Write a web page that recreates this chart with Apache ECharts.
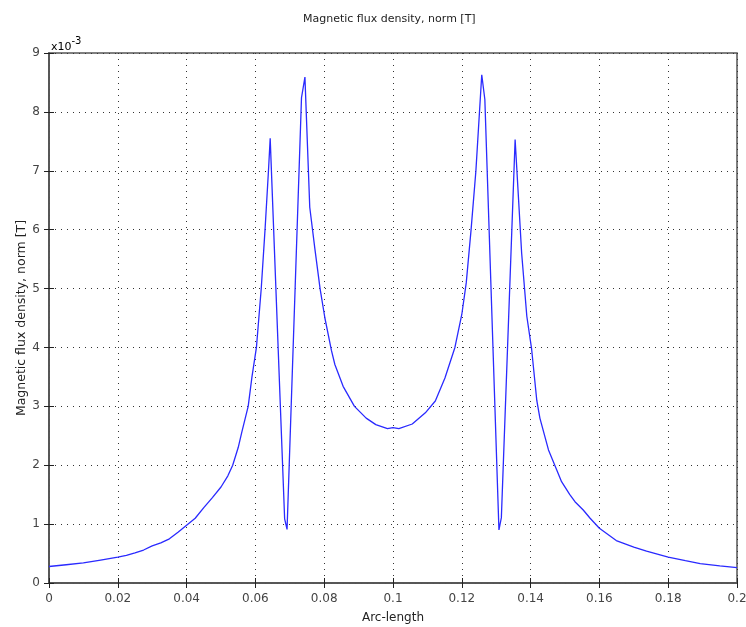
<!DOCTYPE html>
<html>
<head>
<meta charset="utf-8">
<script src="https://cdn.jsdelivr.net/npm/echarts@6/dist/echarts.min.js"></script>
<style>html,body{margin:0;padding:0;background:#fff}#c{width:746px;height:627px}</style>
</head>
<body>
<div id="c"></div>
<script>
// Arc-length positions
var arcLength = [0,0.005,0.01,0.015,0.02,0.0225,0.025,0.0275,0.03,0.0325,0.035,0.0375,0.04,0.0425,0.045,0.0475,0.05,0.052,0.0534,0.055,0.056,0.0579,0.059,0.0603,0.0617,0.0628,0.0638,0.0643,0.0685,0.0692,0.0734,0.0744,0.0758,0.0773,0.0788,0.0802,0.0821,0.0831,0.0855,0.0888,0.0922,0.095,0.0984,0.1,0.1017,0.1056,0.1094,0.1123,0.1151,0.118,0.12,0.1213,0.1227,0.1241,0.1258,0.1267,0.1308,0.1315,0.1355,0.1374,0.1389,0.1403,0.1418,0.1427,0.1452,0.1476,0.149,0.1514,0.1529,0.1553,0.1573,0.16,0.1649,0.17,0.1737,0.18,0.185,0.1893,0.195,0.2];
// Magnetic flux density, norm, in units of 1e-3 T
var fluxNorm = [0.28,0.31,0.34,0.39,0.44,0.47,0.51,0.56,0.63,0.68,0.75,0.86,0.98,1.10,1.28,1.45,1.63,1.82,2.0,2.3,2.55,3.0,3.5,4.0,5.0,6.0,7.0,7.55,1.09,0.91,8.24,8.59,6.38,5.67,5.0,4.5,3.95,3.71,3.34,3.0,2.80,2.69,2.62,2.64,2.62,2.70,2.89,3.09,3.48,4.0,4.56,5.1,6.0,7.0,8.63,8.21,0.90,1.11,7.53,5.6,4.53,3.97,3.1,2.8,2.26,1.92,1.72,1.50,1.38,1.24,1.10,0.93,0.72,0.61,0.54,0.44,0.38,0.33,0.29,0.26];
var xTicks = [0,0.02,0.04,0.06,0.08,0.1,0.12,0.14,0.16,0.18,0.2];
var yTicks = [0,1,2,3,4,5,6,7,8,9];

var pts = arcLength.map(function(x,i){return [x, fluxNorm[i]];});
var font = 'DejaVu Sans';
var chart = echarts.init(document.getElementById('c'));
var grid = {left:49, right:9, top:53, bottom:44, show:true, borderColor:'#555', borderWidth:1.5, outerBoundsMode:'none', containLabel:false};
var dotted = {show:true, lineStyle:{color:'#333', type:[1,5], width:1}};
chart.setOption({
  animation:false,
  backgroundColor:'#fff',
  title:{text:'Magnetic flux density, norm [T]', left:298, top:9,
    textStyle:{fontFamily:font, fontSize:11, fontWeight:'normal', color:'#222'}},
  grid:grid,
  xAxis:[{
    type:'value', min:xTicks[0], max:xTicks[xTicks.length-1], interval:0.02,
    name:'Arc-length', nameLocation:'middle', nameGap:29, nameMoveOverlap:false,
    nameTextStyle:{fontFamily:font, fontSize:12, color:'#222'},
    axisLine:{show:true, lineStyle:{color:'#555', width:1.5}},
    axisTick:{show:true, inside:true, length:5, lineStyle:{color:'#222'}},
    axisLabel:{fontFamily:font, fontSize:12, color:'#444', margin:10,
      formatter:function(v){return String(+v.toFixed(2));}},
    splitLine:dotted
  },{
    type:'value', position:'top', min:xTicks[0], max:xTicks[xTicks.length-1], interval:0.02,
    axisLine:{show:true, lineStyle:{color:'#555', width:1.5}},
    axisTick:{show:true, inside:true, length:5, lineStyle:{color:'#222'}},
    axisLabel:{show:false}, splitLine:{show:false}
  }],
  yAxis:[{
    type:'value', min:yTicks[0], max:yTicks[yTicks.length-1], interval:1,
    name:'Magnetic flux density, norm [T]', nameLocation:'middle', nameGap:21, nameMoveOverlap:false,
    nameTextStyle:{fontFamily:font, fontSize:12.5, color:'#222'},
    axisLine:{show:true, lineStyle:{color:'#555', width:1.5}},
    axisTick:{show:true, inside:true, length:5, lineStyle:{color:'#222'}},
    axisLabel:{fontFamily:font, fontSize:12, color:'#444', margin:9},
    splitLine:dotted
  },{
    type:'value', position:'right', min:yTicks[0], max:yTicks[yTicks.length-1], interval:1,
    axisLine:{show:true, lineStyle:{color:'#555', width:1.5}},
    axisTick:{show:true, inside:true, length:5, lineStyle:{color:'#222'}},
    axisLabel:{show:false}, splitLine:{show:false}
  }],
  graphic:[{
    type:'text', left:51, top:36,
    style:{
      text:'{a|x10}{b|-3}',
      rich:{
        a:{fontFamily:font, fontSize:11, color:'#444', verticalAlign:'bottom', padding:[6,0,0,0]},
        b:{fontFamily:font, fontSize:10, color:'#444', verticalAlign:'top'}
      }
    }
  }],
  series:[{
    type:'line', data:pts, showSymbol:false, symbol:'none',
    lineStyle:{color:'#2a2aff', width:1.3},
    clip:true
  }]
});
</script>
</body>
</html>
